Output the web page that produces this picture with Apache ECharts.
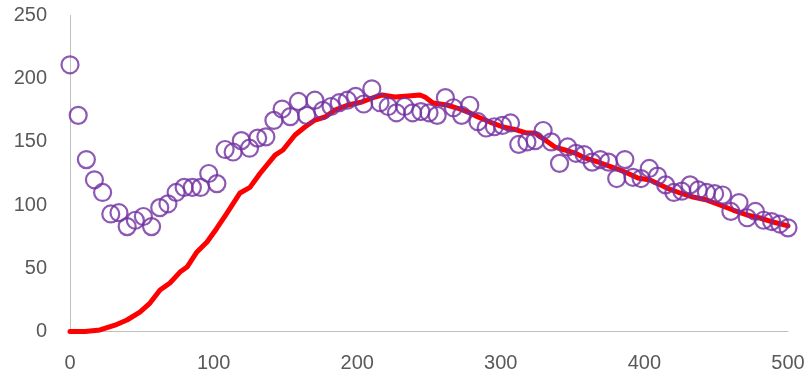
<!DOCTYPE html>
<html>
<head>
<meta charset="utf-8">
<script src="https://cdn.jsdelivr.net/npm/echarts@6/dist/echarts.min.js"></script>
<style>
  html, body { margin: 0; padding: 0; background: #fff; }
  #chart { width: 812px; height: 375px; }
</style>
</head>
<body>
<div id="chart"></div>
<script>
// Measured points (x, y)
const pointX = [
  0, 5.7, 11.4, 17.0, 22.7, 28.4, 34.1, 39.8, 45.5, 51.1,
  56.8, 62.5, 68.2, 73.9, 79.5, 85.2, 90.9, 96.6, 102.3, 108.0,
  113.6, 119.3, 125.0, 130.7, 136.4, 142.0, 147.7, 153.4, 159.1, 164.8,
  170.5, 176.1, 181.8, 187.5, 193.2, 198.9, 204.5, 210.2, 215.9, 221.6,
  227.3, 233.0, 238.6, 244.3, 250.0, 255.7, 261.4, 267.0, 272.7, 278.4,
  284.1, 289.8, 295.5, 301.1, 306.8, 312.5, 318.2, 323.9, 329.5, 335.2,
  340.9, 346.6, 352.3, 358.0, 363.6, 369.3, 375.0, 380.7, 386.4, 392.0,
  397.7, 403.4, 409.1, 414.8, 420.5, 426.1, 431.8, 437.5, 443.2, 448.9,
  454.5, 460.2, 465.9, 471.6, 477.3, 483.0, 488.6, 494.3, 500.0
];
const pointY = [
  211, 171, 136, 120, 110, 93, 94, 83, 88, 91,
  83, 98, 101, 110, 114, 114, 114, 125, 117, 144,
  142, 151, 145, 153, 154, 167, 176, 170, 182, 171,
  183, 175, 178, 181, 183, 186, 180, 192, 181, 178,
  173, 178, 173, 174, 173, 171, 185, 177, 171, 179,
  166, 161, 162, 163, 165, 148, 150, 151, 159, 150,
  133, 146, 141, 140, 134, 136, 134, 121, 136, 122,
  121, 129, 123, 116, 110, 111, 116, 112, 110, 109,
  108, 95, 102, 90, 95, 88, 87, 85, 82
];

// Model curve (x, y)
const curveX = [
  0, 10.4, 20.9, 31.3, 39.7, 48.7, 55.7, 62.7, 69.6, 76.6,
  81.5, 88.4, 95.4, 102.4, 109.3, 118.4, 125.3, 132.3, 142.8, 148.3,
  156.7, 163.6, 170.6, 177.6, 184.5, 193.6, 203.3, 212.4, 217.3, 226.3,
  235.4, 243.7, 247.2, 252.8, 262.5, 269.5, 277.2, 284.1, 292.5, 301.5,
  311.3, 318.2, 323.8, 330.8, 337.7, 344.7, 351.7, 358.6, 367.7, 377.4,
  386.5, 395.5, 403.9, 415.7, 424.8, 433.8, 443.6, 452.6, 461.7, 471.4,
  480.5, 489.6, 500
];
const curveY = [
  0, 0, 1.2, 5, 9.1, 15.4, 22.5, 32.8, 38.4, 47,
  51, 62.9, 70.8, 81.9, 93.7, 109.6, 114, 125, 139.6, 143.6,
  155.5, 161.8, 167.3, 169.7, 175.2, 179.2, 181.6, 185.5, 187.1, 185.5,
  186.3, 187.1, 185.5, 180.8, 179.2, 176.8, 173.6, 169.7, 165.7, 161.8,
  159.4, 157, 157, 151.5, 145.9, 143.6, 141.2, 137.3, 134.1, 130.1,
  126.2, 121.4, 119.9, 113.5, 109.6, 106.4, 104, 100.1, 96.1, 92.2,
  89.8, 86.6, 83.5
];

const xTicks = { min: 0, max: 500, step: 100 };
const yTicks = { min: 0, max: 250, step: 50 };

const pointData = pointX.map((x, i) => [x, pointY[i]]);
const curveData = curveX.map((x, i) => [x, curveY[i]]);

const axisText = { color: '#595959', fontSize: 20, fontFamily: 'Liberation Sans, Arial, sans-serif' };
const axisLine = { show: true, lineStyle: { color: '#bfbfbf', width: 1 } };

const chart = echarts.init(document.getElementById('chart'), null, { renderer: 'canvas' });
chart.setOption({
  animation: false,
  backgroundColor: '#ffffff',
  grid: { left: 70, right: 24, top: 15.5, bottom: 43.5, containLabel: false },
  xAxis: {
    type: 'value',
    min: xTicks.min, max: xTicks.max, interval: xTicks.step,
    axisLine: axisLine,
    axisTick: { show: false },
    splitLine: { show: false },
    axisLabel: Object.assign({ margin: 22 }, axisText)
  },
  yAxis: {
    type: 'value',
    min: yTicks.min, max: yTicks.max, interval: yTicks.step,
    axisLine: axisLine,
    axisTick: { show: false },
    splitLine: { show: false },
    axisLabel: Object.assign({ margin: 23 }, axisText)
  },
  series: [
    {
      type: 'line',
      data: curveData,
      showSymbol: false,
      smooth: false,
      z: 2,
      lineStyle: { color: '#ff0000', width: 5, cap: 'round', join: 'round' }
    },
    {
      type: 'scatter',
      data: pointData,
      symbol: 'circle',
      symbolSize: 17,
      z: 3,
      itemStyle: { color: 'rgba(0,0,0,0)', borderColor: '#7030a0', borderWidth: 2.2 }
    }
  ]
});
</script>
</body>
</html>
